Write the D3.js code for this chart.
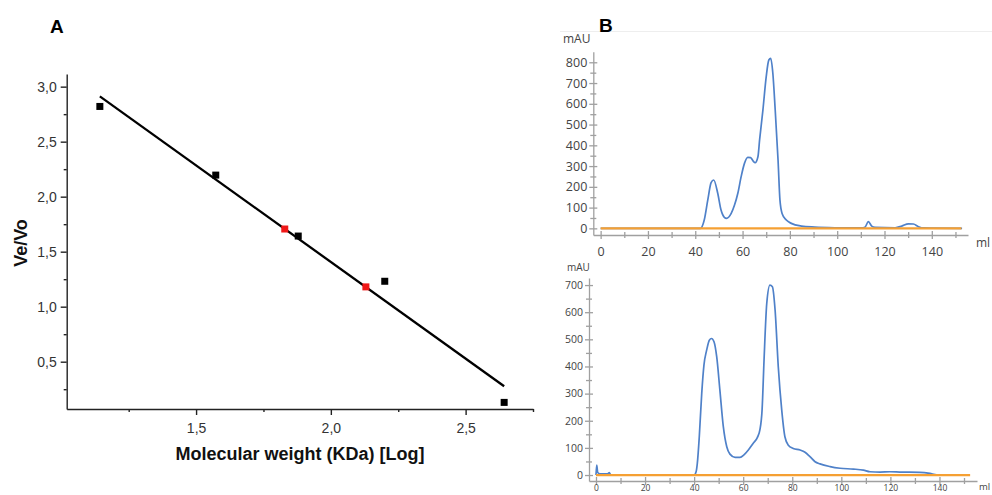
<!DOCTYPE html>
<html>
<head>
<meta charset="utf-8">
<script src="https://cdn.jsdelivr.net/npm/d3@7/dist/d3.min.js"></script>
<style>
  body { margin: 0; background: #fff; }
  svg { display: block; }
</style>
</head>
<body>
<svg id="chart" width="992" height="495"></svg>
<script>
// Panel A - column calibration (log MW vs Ve/Vo)
const standardsLogMw = [1.143, 1.573, 1.879, 2.200, 2.643];
const standardsVeVo = [2.82, 2.196, 1.642, 1.231, 0.13];
const samplesLogMw = [1.829, 2.130];
const samplesVeVo = [1.706, 1.180];
const calibYTicks = [0.5, 1.0, 1.5, 2.0, 2.5, 3.0];
const calibXTicks = [1.5, 2.0, 2.5];

// Panel B - chromatograms (ml vs mAU)
const topVolume = [0, 42.2, 43.8, 45.3, 46.7, 47.8, 49.5, 50.9, 52.3, 53.2,
  55.2, 56.6, 58, 59.4, 60.8, 62.2, 63.4, 64.5, 65.3, 66.5,
  67.2, 68.6, 70, 71.1, 71.9, 72.8, 73.8, 75, 75.8, 76.7,
  78.5, 80.6, 84.9, 90.5, 99, 110.3, 111.7, 113.2, 114.6, 116,
  124.5, 127.3, 130.1, 132.2, 134.4, 136.5, 152.8];
const topAbs = [0, 0, 40, 137, 220, 233, 169, 88, 53, 48,
  72, 112, 169, 249, 313, 342, 341, 324, 316, 345,
  426, 570, 731, 811, 819, 747, 570, 329, 137, 72,
  40, 24, 11, 6, 3, 2, 5, 32, 11, 5,
  3, 11, 22, 21, 8, 2, 0];
const bottomVolume = [0, 0.3, 0.7, 1.6, 4.4, 5.0, 5.4, 6.0,
  40, 40.8, 41.3, 42.1, 43.1, 44, 45.1, 46.2, 47.1, 48.1,
  49.2, 50.5, 51.9, 53.3, 54.6, 56.7, 58.7, 60.3, 62.1, 64.1,
  65.8, 66.8, 67.7, 68.5, 69.6, 70.9, 71.9, 73, 74.3, 75.7,
  77, 78.4, 80.4, 83.2, 85.2, 87.2, 89.3, 91.3, 95.4, 99.5,
  104.9, 109, 111.7, 115.8, 119.8, 123.9, 132, 136.1, 138.9, 152.4];
const bottomAbs = [0, 37, 9, 4, 4, 6, 9, 1,
  0, 12, 43, 141, 301, 405, 460, 497, 503, 491,
  436, 313, 178, 104, 77, 65, 65, 74, 92, 117,
  139, 166, 240, 424, 632, 700, 694, 608, 399, 240,
  141, 110, 98, 92, 84, 68, 49, 41, 31, 25,
  22, 18, 12, 11, 12, 11, 10, 6, 1, 0];
const baselineVolume = [0, 152.5];

let svg = d3.select('#chart');

// ---------- Panel A ----------
let fontA = '"Liberation Sans", Arial, sans-serif';
let x = d3.scaleLinear().domain([1.02, 2.75]).range([66.7, 533]);
let y = d3.scaleLinear().domain([0.07, 3.115]).range([409, 74]);
let comma = d => d3.format('.1f')(d).replace('.', ',');

let gA = svg.append('g');

// minor ticks first, then major axes on top
gA.append('g')
    .attr('transform', 'translate(0,' + y.range()[0] + ')')
    .call(d3.axisBottom(x).tickValues([1.25, 1.75, 2.25, 2.75]).tickSize(3).tickFormat(''))
    .call(g => g.select('.domain').remove());
gA.append('g')
    .attr('transform', 'translate(' + x.range()[0] + ',0)')
    .call(d3.axisLeft(y).tickValues(d3.range(0.25, 3, 0.5)).tickSize(3).tickFormat(''))
    .call(g => g.select('.domain').remove());

gA.append('g')
    .attr('transform', 'translate(0,' + y.range()[0] + ')')
    .call(d3.axisBottom(x).tickValues(calibXTicks).tickSize(6).tickSizeOuter(0).tickPadding(8).tickFormat(comma));
gA.append('g')
    .attr('transform', 'translate(' + x.range()[0] + ',0)')
    .call(d3.axisLeft(y).tickValues(calibYTicks).tickSize(6).tickSizeOuter(0).tickPadding(4).tickFormat(comma));

gA.selectAll('.domain, .tick line').attr('stroke', '#222').attr('stroke-width', 1.4);
gA.selectAll('.tick text')
    .attr('font-family', fontA)
    .attr('font-size', 14)
    .attr('fill', '#333');

// least squares fit through the standards
let mx = d3.mean(standardsLogMw), my = d3.mean(standardsVeVo);
let sxy = d3.sum(standardsLogMw, (d, i) => (d - mx) * (standardsVeVo[i] - my));
let sxx = d3.sum(standardsLogMw, d => (d - mx) * (d - mx));
let slope = sxy / sxx;
let intercept = my - slope * mx;
gA.append('path')
    .datum(d3.extent(standardsLogMw))
    .attr('fill', 'none')
    .attr('stroke', '#000')
    .attr('stroke-width', 2.3)
    .attr('d', d3.line().x(d => x(d)).y(d => y(intercept + slope * d)));

let sq = 7;
gA.selectAll('rect.std')
    .data(standardsLogMw)
    .enter()
    .append('rect')
    .attr('class', 'std')
    .attr('x', d => x(d) - sq / 2)
    .attr('y', (d, i) => y(standardsVeVo[i]) - sq / 2)
    .attr('width', sq)
    .attr('height', sq)
    .attr('fill', '#000');
gA.selectAll('rect.smp')
    .data(samplesLogMw)
    .enter()
    .append('rect')
    .attr('class', 'smp')
    .attr('x', d => x(d) - sq / 2)
    .attr('y', (d, i) => y(samplesVeVo[i]) - sq / 2)
    .attr('width', sq)
    .attr('height', sq)
    .attr('fill', '#f01818');

gA.append('text')
    .attr('x', 50).attr('y', 33)
    .attr('font-family', fontA).attr('font-weight', 'bold').attr('font-size', 19)
    .text('A');
gA.append('text')
    .attr('x', 300).attr('y', 460)
    .attr('text-anchor', 'middle')
    .attr('font-family', fontA).attr('font-weight', 'bold').attr('font-size', 18)
    .attr('fill', '#111')
    .text('Molecular weight (KDa) [Log]');
gA.append('text')
    .attr('transform', 'translate(27,243) rotate(-90)')
    .attr('text-anchor', 'middle')
    .attr('font-family', fontA).attr('font-weight', 'bold').attr('font-size', 18)
    .attr('fill', '#111')
    .text('Ve/Vo');

// ---------- Panel B ----------
let fontB = '"Open Sans", "Noto Sans", sans-serif';

svg.append('line')
    .attr('x1', 560).attr('x2', 992).attr('y1', 31.5).attr('y2', 31.5)
    .attr('stroke', '#eeeeee');
svg.append('text')
    .attr('x', 599).attr('y', 32)
    .attr('font-family', fontA).attr('font-weight', 'bold').attr('font-size', 19)
    .text('B');

function chromatogram(opt) {
    let g = svg.append('g');
    let xs = d3.scaleLinear().domain(opt.xDomain).range(opt.xRange);
    let ys = d3.scaleLinear().domain(opt.yDomain).range(opt.yRange);
    let x0 = opt.xRange[0], y0 = opt.yRange[0];

    // crossing ticks, minor then major
    g.append('g')
        .attr('transform', 'translate(' + x0 + ',0)')
        .call(d3.axisLeft(ys).tickValues(d3.range(50, opt.yMax, 100)).tickSize(3).tickFormat(''))
        .call(a => a.select('.domain').remove())
        .call(a => a.selectAll('.tick line').attr('x1', 3));
    g.append('g')
        .attr('transform', 'translate(0,' + y0 + ')')
        .call(d3.axisBottom(xs).tickValues(d3.range(10, 151, 20)).tickSize(3).tickFormat(''))
        .call(a => a.select('.domain').remove())
        .call(a => a.selectAll('.tick line').attr('y1', -3));

    g.append('g')
        .attr('transform', 'translate(' + x0 + ',0)')
        .call(d3.axisLeft(ys).tickValues(d3.range(0, opt.yMax + 1, 100)).tickSize(4).tickSizeOuter(0).tickPadding(2))
        .call(a => a.selectAll('.tick line').attr('x1', 4))
        .selectAll('.tick text').attr('font-size', opt.fs);
    g.append('g')
        .attr('transform', 'translate(0,' + y0 + ')')
        .call(d3.axisBottom(xs).tickValues(d3.range(0, 141, 20)).tickSize(4).tickSizeOuter(0).tickPadding(opt.xPad))
        .call(a => a.selectAll('.tick line').attr('y1', -4))
        .selectAll('.tick text').attr('font-size', opt.xfs);

    g.selectAll('.domain, .tick line').attr('stroke', '#a0a0a0').attr('stroke-width', 1.3);
    g.selectAll('.tick text')
        .attr('font-family', fontB)
        .attr('fill', '#444');

    // blue trace
    g.append('path')
        .datum(opt.vol)
        .attr('fill', 'none')
        .attr('stroke', '#4f81c9')
        .attr('stroke-width', 1.7)
        .attr('stroke-linejoin', 'round')
        .attr('d', d3.line().curve(d3.curveMonotoneX).x(d => xs(d)).y((d, i) => ys(opt.abs[i])));
    // orange baseline
    g.append('path')
        .datum(baselineVolume)
        .attr('fill', 'none')
        .attr('stroke', '#f5a033')
        .attr('stroke-width', 2.2)
        .attr('d', d3.line().x(d => xs(d)).y(() => ys(0)));

    g.append('text')
        .attr('x', opt.mauPos[0]).attr('y', opt.mauPos[1])
        .attr('font-family', fontB).attr('font-size', opt.fs - 0.5).attr('fill', '#444')
        .text('mAU');
    g.append('text')
        .attr('x', opt.mlPos[0]).attr('y', opt.mlPos[1])
        .attr('font-family', fontB).attr('font-size', opt.mlfs).attr('fill', '#444')
        .text('ml');
}

chromatogram({
    vol: topVolume, abs: topAbs, yMax: 800,
    xDomain: [-3.1, 155.3], xRange: [593.3, 968],
    yDomain: [-32, 851], yRange: [235, 51.7],
    fs: 12.5, xfs: 12.5, xPad: 8, mlfs: 12, mauPos: [563, 43], mlPos: [976, 247]
});
chromatogram({
    vol: bottomVolume, abs: bottomAbs, yMax: 700,
    xDomain: [-2.85, 155.3], xRange: [589, 977],
    yDomain: [-22, 726], yRange: [481, 278],
    fs: 10.5, xfs: 8.5, xPad: 0, mlfs: 9.5, mauPos: [567, 271], mlPos: [979, 490]
});
</script>
</body>
</html>
